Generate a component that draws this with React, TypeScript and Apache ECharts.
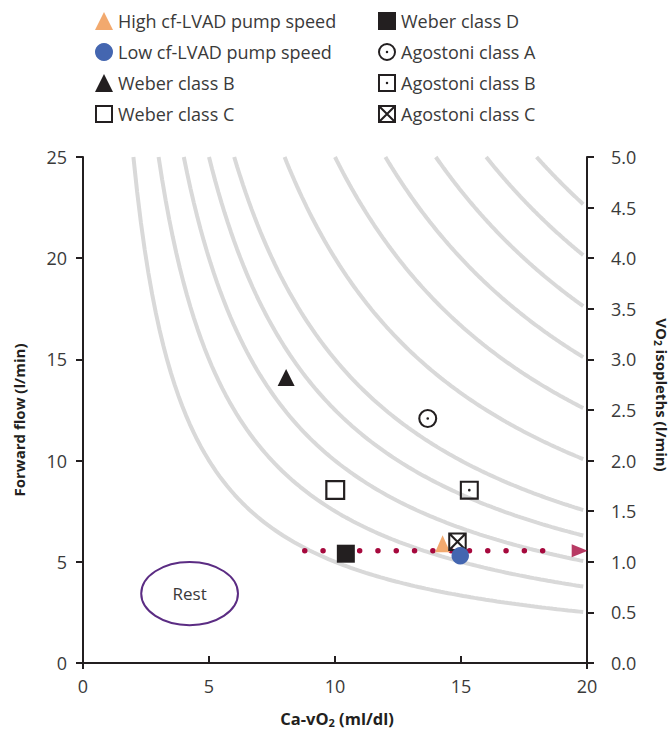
import React, { useEffect, useRef } from "react";
import * as echarts from "echarts";

// VO2 isopleth levels (l/min) drawn as gray curves (VO2 = Q x Ca-vO2 / 100)
const vo2Isopleths = [0.5, 0.75, 1.0, 1.25, 1.5, 2.0, 2.5, 3.0, 3.5, 4.0, 4.5];

// Points: [Ca-vO2 (ml/dl), Forward flow (l/min)]
const highSpeed = [[14.27, 5.89]];
const lowSpeed = [[14.97, 5.3]];
const weberB = [[8.06, 14.1]];
const weberC = [[10.01, 8.55]];
const weberD = [[10.43, 5.4]];
const agostoniA = [[13.68, 12.08]];
const agostoniB = [[15.33, 8.54]];
const agostoniC = [[14.86, 5.99]];
const pumpSpeedPath = [[8.8, 5.55], [18.7, 5.55]];
const pumpSpeedArrow = [[19.71, 5.55]];
const restZone = [[4.23, 3.43]];
const restLabel = "Rest";

const legendLeft = ["High cf-LVAD pump speed", "Low cf-LVAD pump speed", "Weber class B", "Weber class C"];
const legendRight = ["Weber class D", "Agostoni class A", "Agostoni class B", "Agostoni class C"];

const FONT = "'Open Sans', sans-serif";
const INK = "#231f20";
const TEXT = "#3a3a3a";

const SQ = "M0 0H20V20H0Z M2.2 2.2V17.8H17.8V2.2Z";
const SQUARE_HOLLOW = "path://" + SQ;
const SQUARE_DOT = "path://" + SQ + " M10 8.6A1.4 1.4 0 1 1 10 11.4A1.4 1.4 0 1 1 10 8.6Z";
const SQUARE_X =
  "path://" + SQ +
  " M2.2 2.2H3.8L17.8 16.2V17.8H16.2L2.2 3.8Z M17.8 2.2V3.8L3.8 17.8H2.2V16.2L16.2 2.2Z";
const CIRCLE_DOT =
  "path://M10 0A10 10 0 1 1 10 20A10 10 0 1 1 10 0Z M10 2.2A7.8 7.8 0 1 0 10 17.8A7.8 7.8 0 1 0 10 2.2Z M10 8.6A1.4 1.4 0 1 1 10 11.4A1.4 1.4 0 1 1 10 8.6Z";

function isoplethCurve(v: number): number[][] {
  const pts: number[][] = [];
  const x0 = (100 * v) / 25;
  const x1 = 19.85;
  const n = 120;
  for (let i = 0; i <= n; i++) {
    const x = x0 + ((x1 - x0) * i) / n;
    pts.push([x, (100 * v) / x]);
  }
  return pts;
}

export default function App() {
  const ref = useRef<HTMLDivElement>(null);

  useEffect(() => {
    if (!ref.current) return;
    document.body.style.margin = "0";
    const chart = echarts.init(ref.current, undefined, { renderer: "svg" });

    const axisLineStyle = { color: INK, width: 2 };
    const labelStyle = { fontSize: 18, color: TEXT, fontFamily: FONT };

    const curveSeries = vo2Isopleths.map((v) => ({
      type: "line",
      name: "VO2 " + v,
      data: isoplethCurve(v),
      showSymbol: false,
      symbol: "none",
      silent: true,
      lineStyle: { color: "#d9d9d9", width: 4 },
      z: 1,
    }));

    const scatter = (name: string, data: number[][], symbol: string, size: any, color: string) => ({
      type: "scatter",
      name,
      data,
      symbol,
      symbolSize: size,
      itemStyle: { color, opacity: 1 },
      z: 5,
    });

    const legendText = { fontSize: 18, color: TEXT, fontFamily: FONT };

    const option: any = {
      animation: false,
      grid: { left: 83, right: 85, top: 157, bottom: 68 },
      legend: [
        {
          data: legendLeft,
          orient: "vertical",
          left: 90,
          top: 7,
          itemWidth: 18,
          itemHeight: 18,
          itemGap: 13,
          selectedMode: false,
          textStyle: legendText,
        },
        {
          data: legendRight,
          orient: "vertical",
          left: 373,
          top: 7,
          itemWidth: 18,
          itemHeight: 18,
          itemGap: 13,
          selectedMode: false,
          textStyle: legendText,
        },
      ],
      xAxis: [
        {
          type: "value",
          min: 0,
          max: 20,
          interval: 5,
          position: "bottom",
          axisLine: { show: true, onZero: false, lineStyle: axisLineStyle },
          axisTick: { show: true, inside: true, length: 7, lineStyle: axisLineStyle },
          axisLabel: { ...labelStyle, margin: 14 },
          splitLine: { show: false },
        },
        {
          type: "value",
          min: 0,
          max: 20,
          interval: 20,
          position: "bottom",
          axisLine: { show: false },
          axisTick: { show: true, inside: false, length: 6, lineStyle: axisLineStyle },
          axisLabel: { show: false },
          splitLine: { show: false },
        },
      ],
      yAxis: [
        {
          type: "value",
          min: 0,
          max: 25,
          interval: 5,
          position: "left",
          axisLine: { show: true, onZero: false, lineStyle: axisLineStyle },
          axisTick: { show: true, inside: false, length: 7, lineStyle: axisLineStyle },
          axisLabel: { ...labelStyle, margin: 16 },
          splitLine: { show: false },
        },
        {
          type: "value",
          min: 0,
          max: 5,
          interval: 0.5,
          position: "right",
          axisLine: { show: true, onZero: false, lineStyle: axisLineStyle },
          axisTick: { show: true, inside: false, length: 7, lineStyle: axisLineStyle },
          axisLabel: { ...labelStyle, margin: 24, formatter: (v: number) => v.toFixed(1) },
          splitLine: { show: false },
        },
      ],
      graphic: [
        {
          type: "text",
          x: 337,
          y: 718,
          style: {
            text: "Ca-vO{sub|2} (ml/dl)",
            fontSize: 16.5,
            fontWeight: "bold",
            fontFamily: FONT,
            fill: INK,
            align: "center",
            verticalAlign: "middle",
            rich: {
              sub: { fontSize: 11, fontWeight: "bold", fontFamily: FONT, fill: INK, padding: [9, 0, 0, 0] },
            },
          },
        },
        {
          type: "text",
          x: 19,
          y: 420,
          rotation: Math.PI / 2,
          style: {
            text: "Forward flow (l/min)",
            fontSize: 15,
            fontWeight: "bold",
            fontFamily: FONT,
            fill: INK,
            align: "center",
            verticalAlign: "middle",
          },
        },
        {
          type: "text",
          x: 662,
          y: 395,
          rotation: -Math.PI / 2,
          style: {
            text: "VO{sub|2} isopleths (l/min)",
            fontSize: 15,
            fontWeight: "bold",
            fontFamily: FONT,
            fill: INK,
            align: "center",
            verticalAlign: "middle",
            rich: {
              sub: { fontSize: 10, fontWeight: "bold", fontFamily: FONT, fill: INK, padding: [9, 0, 0, 0] },
            },
          },
        },
      ],
      series: [
        ...curveSeries,
        {
          type: "line",
          name: "pump path",
          data: pumpSpeedPath,
          showSymbol: false,
          symbol: "none",
          silent: true,
          lineStyle: { color: "#a6093d", width: 5.5, type: [0, 18.3], cap: "round" },
          z: 2,
        },
        {
          type: "scatter",
          name: "pump arrow",
          data: pumpSpeedArrow,
          symbol: "triangle",
          symbolSize: [13, 16],
          symbolRotate: -90,
          itemStyle: { color: "#a6093d" },
          silent: true,
          z: 2,
        },
        {
          type: "custom",
          name: "rest",
          data: restZone,
          silent: true,
          z: 3,
          renderItem: (params: any, api: any) => {
            const c = api.coord([api.value(0), api.value(1)]);
            const s = api.size([1.92, 1.56]);
            return {
              type: "group",
              children: [
                {
                  type: "ellipse",
                  shape: { cx: c[0], cy: c[1], rx: s[0], ry: s[1] },
                  style: { fill: "rgba(0,0,0,0)", stroke: "#5b2c83", lineWidth: 2 },
                },
                {
                  type: "text",
                  x: c[0],
                  y: c[1],
                  style: {
                    text: restLabel,
                    fontSize: 17,
                    fontFamily: FONT,
                    fill: TEXT,
                    align: "center",
                    verticalAlign: "middle",
                  },
                },
              ],
            };
          },
        },
        scatter("Weber class B", weberB, "triangle", [17, 17], INK),
        scatter("Weber class C", weberC, SQUARE_HOLLOW, 20, INK),
        scatter("Weber class D", weberD, "rect", 18, INK),
        scatter("Agostoni class A", agostoniA, CIRCLE_DOT, 19, INK),
        scatter("Agostoni class B", agostoniB, SQUARE_DOT, 19, INK),
        scatter("High cf-LVAD pump speed", highSpeed, "triangle", [15, 17], "#f2a96e"),
        scatter("Agostoni class C", agostoniC, SQUARE_X, 18.5, INK),
        scatter("Low cf-LVAD pump speed", lowSpeed, "circle", 17.5, "#4466b0"),
      ],
    };

    chart.setOption(option);
    return () => chart.dispose();
  }, []);

  return <div ref={ref} style={{ width: 672, height: 731 }} />;
}
